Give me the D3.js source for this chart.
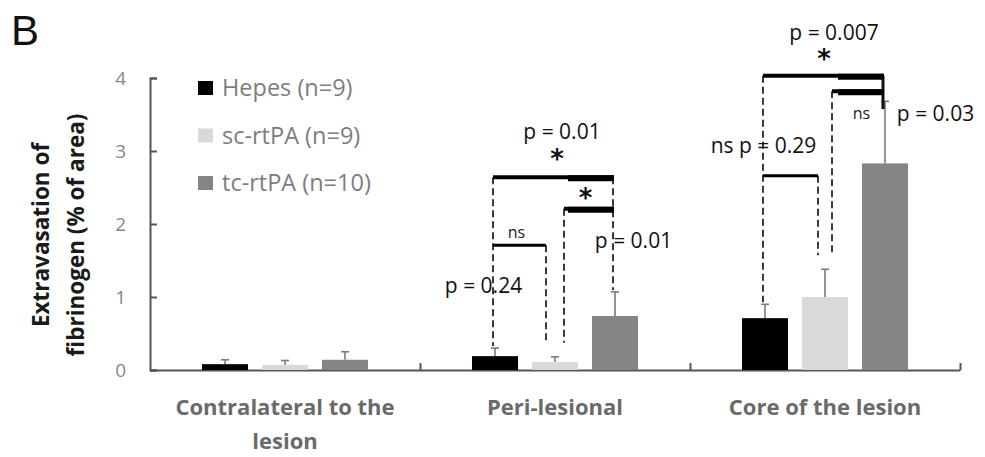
<!DOCTYPE html>
<html>
<head>
<meta charset="utf-8">
<script src="https://cdn.jsdelivr.net/npm/d3@7/dist/d3.min.js"></script>
<style>
  body { margin: 0; background: #fff; }
  svg { display: block; }
  text { font-family: "Open Sans", "DejaVu Sans", sans-serif; }
</style>
</head>
<body>
<svg id="chart" width="985" height="457"></svg>
<script>
// ---------- data ----------
const categories = ["Contralateral to the lesion", "Peri-lesional", "Core of the lesion"];
const categoryLines = [["Contralateral to the", "lesion"], ["Peri-lesional"], ["Core of the lesion"]];
const seriesNames = ["Hepes (n=9)", "sc-rtPA (n=9)", "tc-rtPA (n=10)"];
const hepesMean = [0.08, 0.19, 0.71];
const hepesErr  = [0.06, 0.11, 0.19];
const scMean    = [0.07, 0.11, 1.00];
const scErr     = [0.06, 0.07, 0.38];
const tcMean    = [0.14, 0.74, 2.83];
const tcErr     = [0.11, 0.33, 0.85];
const yTicks = [0, 1, 2, 3, 4];
const yTitle = ["Extravasation of", "fibrinogen (% of area)"];

// comparison brackets: category, from series, to series, level (y units), labels
const bracketCat   = [1, 1, 1, 2, 2, 2];
const bracketFrom  = [0, 1, 0, 0, 1, 0];
const bracketTo    = [2, 2, 1, 2, 2, 1];
const bracketLevel = [2.64, 2.21, 1.71, 4.03, 3.82, 2.66];
const bracketSig   = ["*", "*", "ns", "*", "ns", ""];
const bracketP     = ["p = 0.01", "p = 0.01", "p = 0.24", "p = 0.007", "p = 0.03", "ns p = 0.29"];

const colors = ["#000000", "#d9d9d9", "#858585"];
const means = [hepesMean, scMean, tcMean];
const errs = [hepesErr, scErr, tcErr];

// ---------- layout ----------
const svg = d3.select("#chart");
const m = { left: 150, right: 960, top: 78, bottom: 370 };

const x0 = d3.scaleBand().domain(d3.range(categories.length)).range([m.left, m.right]).padding(0);
const x1 = d3.scaleBand().domain(d3.range(seriesNames.length)).range([0, x0.bandwidth()])
  .paddingInner(0.233).paddingOuter(0.8665);
const y = d3.scaleLinear().domain([0, 4]).range([m.bottom, m.top]);

const barCx = (c, s) => x0(c) + x1(s) + x1.bandwidth() / 2;

// panel letter
svg.append("text").attr("x", 11).attr("y", 45).attr("font-size", 42).attr("fill", "#111")
  .style("font-family", "'Liberation Sans', Arial, sans-serif").text("B");

// y axis title
const yt = svg.append("g").attr("transform", "translate(0,235) rotate(-90)");
yTitle.forEach((t, i) => {
  yt.append("text").attr("x", 0).attr("y", 49 + i * 35).attr("text-anchor", "middle")
    .attr("font-size", 22.5).attr("font-weight", "bold").attr("fill", "#1a1a1a").text(t);
});

// y axis
const yAxis = svg.append("g").attr("transform", `translate(${m.left},0)`)
  .call(d3.axisLeft(y).tickValues(yTicks).tickFormat(d3.format("d")).tickSizeInner(-7).tickSizeOuter(-7).tickPadding(24));
yAxis.select(".domain").attr("stroke", "#555").attr("stroke-width", 2);
yAxis.selectAll(".tick line").attr("stroke", "#555").attr("stroke-width", 2);
yAxis.selectAll(".tick text").attr("font-size", 19).attr("fill", "#888")
  .style("font-family", "'Open Sans', sans-serif");

// x axis
const xEdges = d3.scaleLinear().domain([0, categories.length]).range([m.left, m.right]);
const xAxis = svg.append("g").attr("transform", `translate(0,${m.bottom})`)
  .call(d3.axisBottom(xEdges).tickValues(d3.range(1, categories.length + 1)).tickFormat("")
    .tickSizeInner(-7).tickSizeOuter(0));
xAxis.select(".domain").attr("stroke", "#555").attr("stroke-width", 2);
xAxis.selectAll(".tick line").attr("stroke", "#555").attr("stroke-width", 2);

// category labels
categories.forEach((c, i) => {
  categoryLines[i].forEach((ln, j) => {
    svg.append("text").attr("x", x0(i) + x0.bandwidth() / 2).attr("y", 415 + j * 34)
      .attr("text-anchor", "middle").attr("font-size", 22).attr("font-weight", "bold")
      .attr("fill", "#6a6a6a").text(ln);
  });
});

// bars + error bars
const bars = svg.append("g");
categories.forEach((c, ci) => {
  seriesNames.forEach((s, si) => {
    const v = means[si][ci], e = errs[si][ci];
    const cx = barCx(ci, si);
    bars.append("line").attr("x1", cx).attr("x2", cx).attr("y1", y(v)).attr("y2", y(v + e))
      .attr("stroke", "#7a7a7a").attr("stroke-width", 1.6);
    bars.append("line").attr("x1", cx - 4).attr("x2", cx + 4).attr("y1", y(v + e)).attr("y2", y(v + e))
      .attr("stroke", "#7a7a7a").attr("stroke-width", 1.6);
    bars.append("rect").attr("x", x0(ci) + x1(si)).attr("y", y(v))
      .attr("width", x1.bandwidth()).attr("height", y(0) - y(v)).attr("fill", colors[si]);
  });
});

// legend
seriesNames.forEach((s, i) => {
  const ly = 88 + i * 47.5;
  svg.append("rect").attr("x", 198).attr("y", ly - 7).attr("width", 15).attr("height", 14).attr("fill", colors[i]);
  svg.append("text").attr("x", 222).attr("y", ly + 8).attr("font-size", 23.5).attr("fill", "#7d7d7d").text(s);
});

// brackets
const br = svg.append("g");
// x offsets for dashed leg positions (to separate legs landing on the same bar)
const legOffset = (k, end) => {
  const c = bracketCat[k];
  const fromS = bracketFrom[k], toS = bracketTo[k];
  if (end === 0) return fromS === 1 ? (c === 1 ? 9 : 7) : -2;
  return toS === 1 ? (c === 1 ? -9 : -7) : -2;
};
const legX = k => [barCx(bracketCat[k], bracketFrom[k]) + legOffset(k, 0),
                   barCx(bracketCat[k], bracketTo[k]) + legOffset(k, 1)];
const dashStyle = sel => sel.attr("stroke", "#3a3a3a").attr("stroke-width", 2).attr("stroke-dasharray", "7,4");

bracketLevel.forEach((lev, k) => {
  const c = bracketCat[k];
  const [xa, xb] = legX(k);
  const yl = y(lev);
  const isTop = (bracketFrom[k] === 0 && bracketTo[k] === 2);
  const thick = (bracketTo[k] === 2) ? 4 : 3;
  const legBottom = s => y(means[s][c] + errs[s][c]) - 2;
  if (isTop || bracketFrom[k] === 1)
    br.append("line").attr("x1", xa).attr("x2", xa).attr("y1", yl).attr("y2", legBottom(bracketFrom[k]) - (bracketFrom[k] === 1 ? 12 : 0)).call(dashStyle);
  if (bracketTo[k] === 1)
    br.append("line").attr("x1", xb).attr("x2", xb).attr("y1", yl).attr("y2", legBottom(1) - 12).call(dashStyle);
  if (isTop) {
    if (c === 1) br.append("line").attr("x1", xb).attr("x2", xb).attr("y1", yl).attr("y2", legBottom(2)).call(dashStyle);
    else br.append("line").attr("x1", xb).attr("x2", xb).attr("y1", yl).attr("y2", y(bracketLevel[k + 1]) + 18)
      .attr("stroke", "#111").attr("stroke-width", 3);
  }
  br.append("line").attr("x1", xa).attr("x2", xb + (bracketTo[k] === 2 ? 1 : 0)).attr("y1", yl).attr("y2", yl)
    .attr("stroke", "#000").attr("stroke-width", thick);
  if (bracketTo[k] === 2) {
    br.append("line").attr("x1", xb - 45).attr("x2", xb + 1).attr("y1", yl + 1).attr("y2", yl + 1)
      .attr("stroke", "#000").attr("stroke-width", thick + 2);
  }
});

// bracket labels: offsets (px) from the bracket mid-point
const sigOffset = [[4, -19], [-3, -12], [-3, -13], [1, -18], [4, 22], [0, 0]];
const pOffset   = [[9, -46], [45, 31], [-36, 40], [11, -44], [78, 22], [-27, -31]];
bracketLevel.forEach((lev, k) => {
  const [xa, xb] = legX(k);
  const mx = (xa + xb) / 2, yl = y(lev);
  if (bracketSig[k] === "*") {
    svg.append("text").attr("x", mx + sigOffset[k][0]).attr("y", yl + sigOffset[k][1] + 10)
      .attr("text-anchor", "middle").attr("font-size", 26)
      .attr("font-weight", "bold").attr("fill", "#111")
      .style("font-family", "'DejaVu Sans', sans-serif").text("*");
  } else if (bracketSig[k] === "ns") {
    svg.append("text").attr("x", mx + sigOffset[k][0]).attr("y", yl + sigOffset[k][1])
      .attr("text-anchor", "middle").attr("dominant-baseline", "central")
      .attr("font-size", 16).attr("fill", "#222").text("ns");
  }
  svg.append("text").attr("x", mx + pOffset[k][0]).attr("y", yl + pOffset[k][1])
    .attr("text-anchor", "middle").attr("dominant-baseline", "central")
    .attr("font-size", 21).attr("fill", "#111").text(bracketP[k]);
});
</script>
</body>
</html>
